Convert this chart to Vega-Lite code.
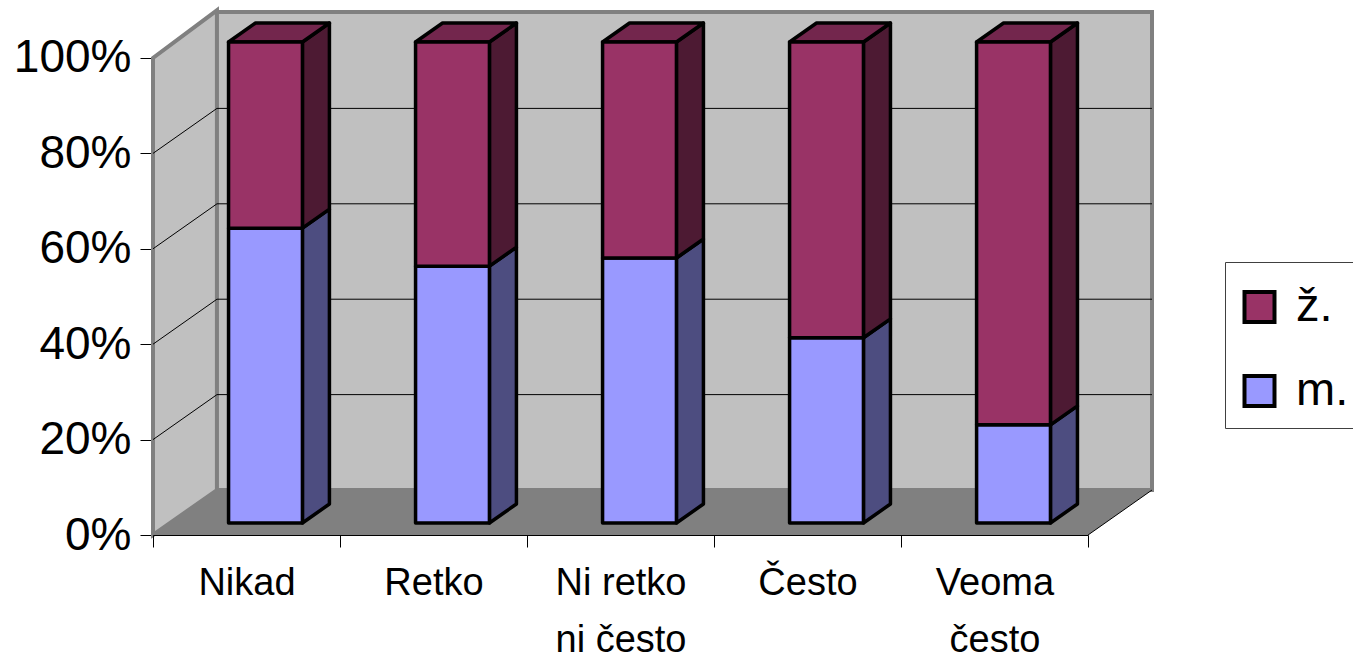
{
  "$schema": "https://vega.github.io/schema/vega-lite/v6.json",
  "autosize": {"type": "none"},
  "padding": {"left": 153, "top": 12, "right": 201, "bottom": 121},
  "width": 999,
  "height": 523,
  "background": "white",
  "config": {"view": {"stroke": null}, "font": "Liberation Sans"},
  "datasets": {
    "udeli": [
      {"kategorija": "Nikad", "serija": "m.", "udeo": 0.613},
      {"kategorija": "Nikad", "serija": "ž.", "udeo": 0.387},
      {"kategorija": "Retko", "serija": "m.", "udeo": 0.534},
      {"kategorija": "Retko", "serija": "ž.", "udeo": 0.466},
      {"kategorija": "Ni retko ni često", "serija": "m.", "udeo": 0.551},
      {"kategorija": "Ni retko ni često", "serija": "ž.", "udeo": 0.449},
      {"kategorija": "Često", "serija": "m.", "udeo": 0.385},
      {"kategorija": "Često", "serija": "ž.", "udeo": 0.615},
      {"kategorija": "Veoma često", "serija": "m.", "udeo": 0.204},
      {"kategorija": "Veoma često", "serija": "ž.", "udeo": 0.796}
    ],
    "podeoci": [{"p": 0.2}, {"p": 0.4}, {"p": 0.6}, {"p": 0.8}],
    "dubina": [{"d": 0}, {"d": 1}]
  },
  "layer": [
    {
      "data": {"name": "udeli"},
      "transform": [
        {"stack": "udeo", "groupby": ["kategorija"], "sort": [{"field": "serija", "order": "ascending"}], "as": ["od", "do"]},
        {"calculate": "indexof(['Nikad','Retko','Ni retko ni često','Često','Veoma često'], datum.kategorija)", "as": "i"},
        {"calculate": "datum.i + 0.404", "as": "x0"},
        {"calculate": "datum.x0 + 0.395", "as": "x1"},
        {"calculate": "0.02516 + datum.od * 1.00839", "as": "y0"},
        {"calculate": "0.02516 + datum.do * 1.00839", "as": "y1"}
      ],
      "resolve": {"scale": {"fill": "independent"}},
      "layer": [
        {
          "data": {"name": "dubina"},
          "transform": [
            {"calculate": "datum.d * 0.342", "as": "x"},
            {"calculate": "datum.d * 0.0943", "as": "y"},
            {"calculate": "1 + datum.d * 0.1", "as": "y2"}
          ],
          "mark": {"type": "area", "orient": "vertical", "fill": "#C0C0C0", "stroke": "#808080", "strokeWidth": 4},
          "encoding": {
            "x": {"field": "x", "type": "quantitative", "scale": {"domain": [0, 5.342], "nice": false, "zero": false}, "axis": null},
            "y": {
              "field": "y", "type": "quantitative", "stack": null,
              "scale": {"domain": [0, 1.0964], "nice": false, "zero": false},
              "axis": {
                "values": [0, 0.2, 0.4, 0.6, 0.8, 1], "format": ".0%", "title": null, "grid": false, "domain": false,
                "tickSize": 13, "tickColor": "black", "tickWidth": 1, "labelFontSize": 46, "labelColor": "black", "labelPadding": 9, "labelFont": "Liberation Sans"
              }
            },
            "y2": {"field": "y2"}
          }
        },
        {
          "data": {"name": "dubina"},
          "transform": [
            {"calculate": "datum.d * 0.342", "as": "x"},
            {"calculate": "5 + datum.d * 0.342", "as": "x2"},
            {"calculate": "datum.d * 0.0943", "as": "y"}
          ],
          "mark": {"type": "area", "orient": "horizontal", "fill": "#808080"},
          "encoding": {
            "x": {"field": "x", "type": "quantitative"},
            "x2": {"field": "x2"},
            "y": {"field": "y", "type": "quantitative", "stack": null}
          }
        },
        {
          "data": {"values": [{"zid": "zadnji"}]},
          "mark": {"type": "rect", "fill": "#C0C0C0", "stroke": "#808080", "strokeWidth": 4},
          "encoding": {
            "x": {"datum": 0.342, "type": "quantitative"},
            "x2": {"datum": 5.342},
            "y": {"datum": 0.0943, "type": "quantitative"},
            "y2": {"datum": 1.0964}
          }
        },
        {
          "data": {"name": "podeoci"},
          "transform": [{"calculate": "datum.p + 0.0943", "as": "q"}],
          "mark": {"type": "rule", "color": "black", "strokeWidth": 1},
          "encoding": {
            "x": {"datum": 0.342, "type": "quantitative"},
            "x2": {"datum": 5.342},
            "y": {"field": "q", "type": "quantitative"}
          }
        },
        {
          "data": {"name": "podeoci"},
          "transform": [{"calculate": "datum.p + 0.0943", "as": "q"}],
          "mark": {"type": "rule", "color": "black", "strokeWidth": 1},
          "encoding": {
            "x": {"datum": 0, "type": "quantitative"},
            "x2": {"datum": 0.342},
            "y": {"field": "p", "type": "quantitative"},
            "y2": {"field": "q"}
          }
        },
        {
          "data": {"values": [{"ivica": "desna"}]},
          "mark": {"type": "rule", "color": "black", "strokeWidth": 1},
          "encoding": {
            "x": {"datum": 5, "type": "quantitative"},
            "x2": {"datum": 5.342},
            "y": {"datum": 0, "type": "quantitative"},
            "y2": {"datum": 0.0943}
          }
        },
        {
          "transform": [
            {"calculate": "[0, 1]", "as": "d"},
            {"flatten": ["d"]},
            {"calculate": "datum.x1 + datum.d * 0.1444", "as": "sx"},
            {"calculate": "datum.y0 + datum.d * 0.0398", "as": "sy0"},
            {"calculate": "datum.y1 + datum.d * 0.0398", "as": "sy1"}
          ],
          "mark": {"type": "area", "orient": "vertical", "stroke": "black", "strokeWidth": 3.5, "strokeJoin": "round"},
          "encoding": {
            "x": {"field": "sx", "type": "quantitative"},
            "y": {"field": "sy0", "type": "quantitative", "stack": null},
            "y2": {"field": "sy1"},
            "detail": {"field": "kategorija"},
            "fill": {"field": "serija", "type": "nominal", "legend": null, "scale": {"domain": ["ž.", "m."], "range": ["#4D1A33", "#4D4D80"]}}
          }
        },
        {
          "transform": [
            {"filter": "datum.serija === 'ž.'"},
            {"calculate": "[0, 1]", "as": "d"},
            {"flatten": ["d"]},
            {"calculate": "datum.x0 + datum.d * 0.1444", "as": "tx0"},
            {"calculate": "datum.x1 + datum.d * 0.1444", "as": "tx1"},
            {"calculate": "datum.y1 + datum.d * 0.0398", "as": "ty"}
          ],
          "mark": {"type": "area", "orient": "horizontal", "fill": "#73264D", "stroke": "black", "strokeWidth": 3.5, "strokeJoin": "round"},
          "encoding": {
            "x": {"field": "tx0", "type": "quantitative"},
            "x2": {"field": "tx1"},
            "y": {"field": "ty", "type": "quantitative", "stack": null},
            "detail": {"field": "kategorija"}
          }
        },
        {
          "mark": {"type": "rect", "stroke": "black", "strokeWidth": 3.5, "strokeJoin": "round"},
          "encoding": {
            "x": {"field": "x0", "type": "quantitative"},
            "x2": {"field": "x1"},
            "y": {"field": "y0", "type": "quantitative"},
            "y2": {"field": "y1"},
            "fill": {
              "field": "serija", "type": "nominal",
              "scale": {"domain": ["ž.", "m."], "range": ["#993366", "#9999FF"]},
              "legend": {
                "title": " ", "titleFontSize": 1, "titlePadding": 7, "orient": "none", "legendX": 1072, "legendY": 250,
                "fillColor": "white", "strokeColor": "#404040", "padding": 11,
                "symbolType": "square", "symbolSize": 900, "symbolStrokeColor": "black", "symbolStrokeWidth": 4,
                "labelFontSize": 47, "labelColor": "black", "labelFont": "Liberation Sans", "labelOffset": 13, "rowPadding": 32, "clipHeight": 52
              }
            }
          }
        }
      ]
    },
    {
      "data": {"name": "udeli"},
      "mark": {"type": "rule", "opacity": 0},
      "encoding": {
        "x": {
          "field": "kategorija", "type": "nominal",
          "scale": {"type": "band", "domain": ["Nikad", "Retko", "Ni retko ni često", "Često", "Veoma često"], "range": [0, 935], "padding": 0},
          "axis": {
            "orient": "bottom", "title": null, "labelAngle": 0, "tickBand": "extent", "tickSize": 12, "tickColor": "black", "domainColor": "black", "zindex": 1,
            "labelFontSize": 38, "labelColor": "black", "labelFont": "Liberation Sans", "labelPadding": 17, "labelLimit": 300, "labelLineHeight": 57,
            "labelExpr": "datum.label === 'Ni retko ni često' ? ['Ni retko', 'ni često'] : datum.label === 'Veoma često' ? ['Veoma', 'često'] : datum.label"
          }
        }
      }
    }
  ],
  "resolve": {"scale": {"x": "independent"}}
}
